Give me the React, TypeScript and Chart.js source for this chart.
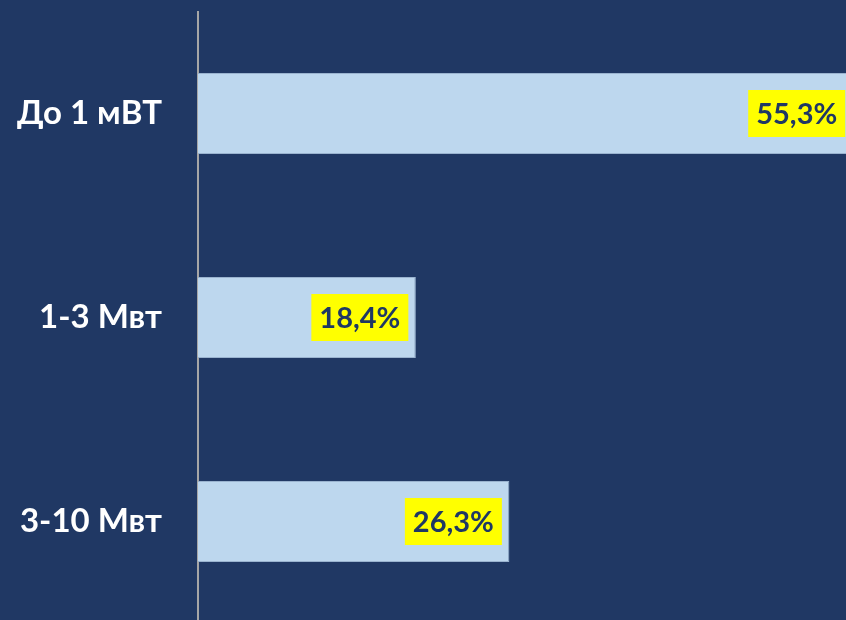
import React, { useEffect, useRef } from "react";
import { Chart, registerables } from "chart.js";

Chart.register(...registerables);

const categories = ["До 1 мВТ", "1-3 Мвт", "3-10 Мвт"];
const values = [55.3, 18.4, 26.3];
const valueLabels = ["55,3%", "18,4%", "26,3%"];

const BG = "#203864";
const BAR = "#BDD7EE";
const NAVY = "#1F3864";
const FONT = "Lato";

export default function App() {
  const ref = useRef<HTMLCanvasElement | null>(null);

  useEffect(() => {
    document.body.style.margin = "0";
    document.body.style.overflow = "hidden";
    document.body.style.background = BG;
    const canvas = ref.current!;

    const bgPlugin = {
      id: "bg",
      beforeDraw(chart: any) {
        const ctx = chart.ctx;
        ctx.save();
        ctx.fillStyle = BG;
        ctx.fillRect(0, 0, chart.width, chart.height);
        ctx.restore();
      },
    };

    const labelPlugin = {
      id: "valueBoxes",
      afterDatasetsDraw(chart: any) {
        const ctx = chart.ctx;
        const meta = chart.getDatasetMeta(0);
        ctx.save();
        ctx.font = `bold 29px ${FONT}`;
        ctx.textAlign = "center";
        ctx.textBaseline = "middle";
        meta.data.forEach((bar: any, i: number) => {
          const w = 97;
          const h = 47;
          const right = bar.x - 7.5;
          const left = right - w;
          const top = bar.y - h / 2;
          ctx.fillStyle = "#FFFF00";
          ctx.fillRect(left, top, w, h);
          ctx.fillStyle = NAVY;
          ctx.fillText(valueLabels[i], left + w / 2, bar.y + 1);
        });
        ctx.restore();
      },
    };

    const chart = new Chart(canvas, {
      type: "bar",
      data: {
        labels: categories,
        datasets: [
          {
            data: values,
            backgroundColor: BAR,
            borderColor: "#9AB3CF",
            borderWidth: 1,
            categoryPercentage: 1,
            barPercentage: 0.397,
          },
        ],
      },
      options: {
        indexAxis: "y",
        responsive: false,
        animation: false,
        layout: { padding: { top: 11.5, bottom: 0.5, left: 0, right: 0 } },
        plugins: {
          legend: { display: false },
          tooltip: { enabled: false },
        },
        scales: {
          x: {
            display: false,
            min: 0,
            max: 56,
          },
          y: {
            afterFit(scale: any) {
              scale.width = 198;
              scale.paddingTop = 0;
              scale.paddingBottom = 0;
            },
            grid: { display: false, drawTicks: false },
            border: { display: true, color: "#A6A6A6", width: 2 },
            ticks: {
              color: "#FFFFFF",
              padding: 36,
              font: { family: FONT, weight: "bold", size: 33 },
            },
          },
        },
      },
      plugins: [bgPlugin, labelPlugin],
    });

    return () => chart.destroy();
  }, []);

  return (
    <canvas
      ref={ref}
      width={861}
      height={624}
      style={{ display: "block", width: 861, height: 624 }}
    />
  );
}
